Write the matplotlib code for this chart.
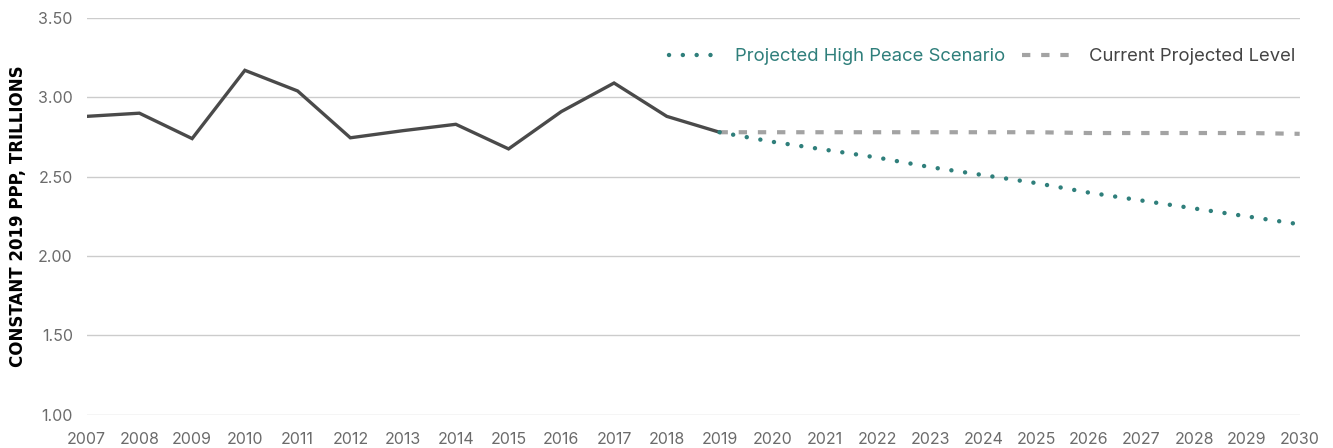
import numpy as np
import matplotlib.pyplot as plt

plt.rcParams['font.family'] = ['Inter', 'DejaVu Sans']

# historical series
years_hist = [2007, 2008, 2009, 2010, 2011, 2012, 2013, 2014, 2015, 2016, 2017, 2018, 2019]
vals_hist = [2.88, 2.90, 2.74, 3.17, 3.04, 2.745, 2.79, 2.83, 2.675, 2.91, 3.09, 2.88, 2.78]

# projections
years_proj = [2019, 2020, 2021, 2022, 2023, 2024, 2025, 2026, 2027, 2028, 2029, 2030]
vals_peace = [2.78, 2.72, 2.67, 2.62, 2.56, 2.51, 2.46, 2.40, 2.35, 2.30, 2.25, 2.20]
vals_current = [2.78, 2.78, 2.78, 2.78, 2.78, 2.78, 2.78, 2.775, 2.775, 2.775, 2.775, 2.77]

yticks = [1.0, 1.5, 2.0, 2.5, 3.0, 3.5]

teal = '#2f7f7b'
tick_col = '#6b6b6b'

fig = plt.figure(figsize=(13.33, 4.48), dpi=100)
ax = fig.add_axes([0.065, 0.074, 0.91, 0.886])

ax.plot(years_hist, vals_hist, color='#4a4a4a', lw=2.4, zorder=3,
        solid_joinstyle='miter')
ax.plot(years_proj, vals_current, color='#a3a3a3', lw=3.0,
        linestyle=(0, (2.0, 2.6)), label='Current Projected Level', zorder=2)
ax.plot(years_proj, vals_peace, color=teal, lw=3.2,
        linestyle=(0, (0.01, 3.1)), dash_capstyle='round',
        label='Projected High Peace Scenario', zorder=4)

ax.set_xlim(2007, 2030)
ax.set_ylim(1.0, 3.5)
ax.set_yticks(yticks)
ax.set_yticklabels([f'{v:.2f}' for v in yticks])
ax.set_xticks(range(2007, 2031))
ax.grid(axis='y', color='#cccccc', lw=1)
ax.set_axisbelow(True)
for s in ax.spines.values():
    s.set_visible(False)
ax.tick_params(length=0, labelsize=11.5, colors=tick_col)
ax.tick_params(axis='x', pad=12)
ax.tick_params(axis='y', pad=10)

ax.set_ylabel('CONSTANT 2019 PPP, TRILLIONS', fontsize=12,
              fontweight='bold', family='DejaVu Sans', color='black',
              labelpad=8)

handles, labels = ax.get_legend_handles_labels()
leg = ax.legend(handles[::-1], labels[::-1], loc='upper right', ncol=2,
                frameon=False, fontsize=13.3, handlelength=2.8,
                handletextpad=0.8, columnspacing=0.9,
                bbox_to_anchor=(1.01, 0.965))
leg.get_texts()[0].set_color(teal)
leg.get_texts()[1].set_color('#444444')

fig.savefig('out.png', dpi=100)
